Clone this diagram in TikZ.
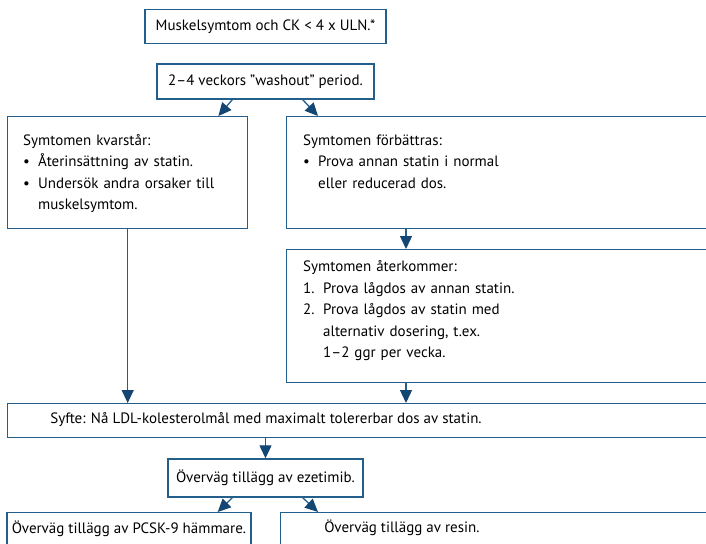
\documentclass[tikz,border=0pt]{standalone}
\usepackage{fontspec}
\setmainfont{PT Sans}
\usetikzlibrary{arrows.meta}
\definecolor{frame}{RGB}{35,95,140}
\definecolor{head}{RGB}{20,70,115}
\newcommand{\bul}{\makebox[15pt][l]{\textbullet}}
\newcommand{\numit}[1]{\makebox[20pt][l]{#1}}

\begin{document}
\begin{tikzpicture}[x=1pt, y=-1pt, font=\fontsize{15}{21.5}\selectfont,
  box/.style={draw=frame, line width=1.4pt, inner sep=0pt},
  txt/.style={inner sep=0pt, text width=380pt, align=left, anchor=base west},
  link/.style={draw=frame, line width=1.3pt, -{Triangle[length=13pt,width=12pt,color=head,fill=head]}}]
  \useasboundingbox (0,0) rectangle (706,543);
  \clip (0,0) rectangle (706,543);
  % Start and washout
  \node[box, minimum width=241pt, minimum height=34pt] (start) at (265.5,26.5) {Muskelsymtom och CK < 4 x ULN.*};
  \node[box, minimum width=217pt, minimum height=35pt] (wash) at (265.5,81.5) {2–4 veckors ”washout” period.};
  % Left branch
  \node[box, minimum width=240pt, minimum height=112pt, anchor=north west] (kvar) at (7,116) {};
  \node[txt] (kvartxt) at (23,145) {Symtomen kvarstår:\\\bul Återinsättning av statin.\\\bul Undersök andra orsaker till\\\hspace*{15pt}muskelsymtom.};
  % Right branch
  \node[box, minimum width=440pt, minimum height=112pt, anchor=north west] (battr) at (286,116) {};
  \node[txt] (battrtxt) at (303,145) {Symtomen förbättras:\\\bul Prova annan statin i normal\\\hspace*{15pt}eller reducerad dos.};
  \node[box, minimum width=440pt, minimum height=133pt, anchor=north west] (ater) at (286,249) {};
  \node[txt] (atertxt) at (303,271.5) {Symtomen återkommer:\\\numit{1.}Prova lågdos av annan statin.\\\numit{2.}Prova lågdos av statin med\\\hspace*{20pt}alternativ dosering, t.ex.\\\hspace*{20pt}1–2 ggr per vecka.};
  % Goal
  \node[box, minimum width=713pt, minimum height=34pt, anchor=north west] (syfte) at (7,403) {};
  \node (syftetxt) at (266,420) {Syfte: Nå LDL-kolesterolmål med maximalt tolererbar dos av statin.};
  \node[box, minimum width=195pt, minimum height=38pt] (ezet) at (265.5,478) {Överväg tillägg av ezetimib.};
  % Add-ons
  \node[box, minimum width=244pt, minimum height=33pt, anchor=north] (pcsk) at (129,512) {Överväg tillägg av PCSK-9 hämmare.};
  \node[box, minimum width=440pt, minimum height=40pt, anchor=north west] (resin) at (280,512) {};
  \node (resintxt) at (402,528) {Överväg tillägg av resin.};
  % Connectors
  \draw[link] ([xshift=76pt]wash.south west) -- ([xshift=-30pt]kvar.north east);
  \draw[link] ([xshift=-72pt]wash.south east) -- ([xshift=32pt]battr.north west);
  \draw[link] ([xshift=120pt]battr.south west) -- ([xshift=120pt]ater.north west);
  \draw[link] (kvar.south) -- (kvar.south |- syfte.north);
  \draw[link] ([xshift=120pt]ater.south west) -- ([xshift=120pt]ater.south west |- syfte.north);
  \draw[link] (ezet.north |- syfte.south) -- (ezet.north);
  \draw[link] ([xshift=65pt]ezet.south west) -- ([xshift=-34pt]pcsk.north east);
  \draw[link] ([xshift=-61pt]ezet.south east) -- ([xshift=38pt]resin.north west);
\end{tikzpicture}
\end{document}
